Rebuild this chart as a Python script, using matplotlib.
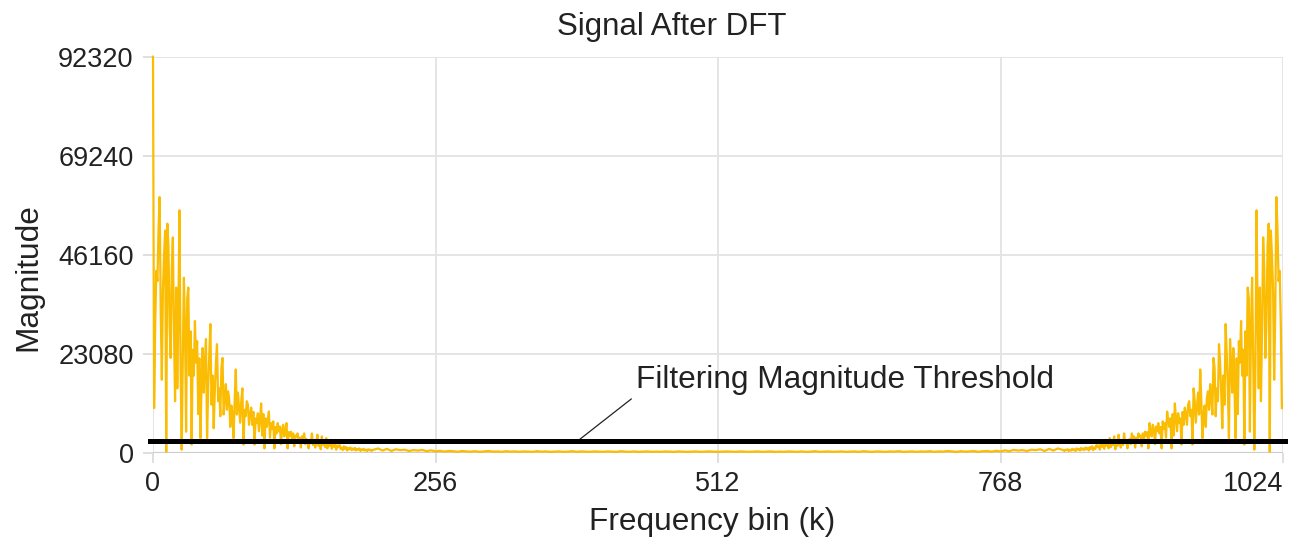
import numpy as np
import matplotlib.pyplot as plt

plt.rcParams['font.family'] = ['Liberation Sans', 'DejaVu Sans']

N = 1024

# magnitude of every bin k = 0..199
k_low = np.arange(0, 200)
mag_low = [
    92320, 10400, 30000, 42400, 40000, 52000, 59600, 33000, 17000, 38000,
    46000, 51800, 200, 53400, 48000, 30000, 22100, 43200, 50200, 28000,
    12000, 38500, 15000, 33000, 56500, 20000, 700, 22000, 40800, 29100,
    4900, 36000, 38500, 18000, 28300, 1900, 24000, 18000, 30700, 21000,
    26000, 9000, 22000, 3400, 16000, 24400, 14000, 21000, 26500, 3400,
    15000, 23000, 30000, 11200, 18000, 5700, 14000, 21000, 25300, 12000,
    15000, 8500, 19800, 22100, 8900, 12700, 16000, 10000, 14300, 12700,
    6000, 11000, 9000, 3400, 12000, 19400, 8900, 14000, 10500, 7000,
    12000, 15000, 1900, 10000, 8500, 12000, 11200, 6500, 8900, 10500,
    6500, 9500, 1900, 8000, 7000, 9200, 5000, 8000, 11500, 4000,
    9000, 1000, 8000, 6000, 7500, 9600, 3500, 6900, 5500, 7300,
    1000, 6000, 4500, 6900, 5000, 6100, 2000, 5500, 6500, 3800,
    5200, 6900, 1000, 4800, 4000, 4900, 3000, 4500, 1500, 4000,
    3700, 4500, 2500, 3500, 1200, 3800, 3000, 4500, 2000, 3200,
    2600, 1000, 3000, 2200, 4500, 1800, 2800, 1200, 2400, 4200,
    1600, 2600, 800, 3800, 1800, 2700, 1300, 3400, 1000, 2000,
    1600, 3000, 900, 1900, 1400, 2000, 700, 1700, 1300, 1800,
    900, 1200, 600, 1500, 900, 1300, 500, 1100, 800, 1200,
    600, 1000, 700, 1100, 500, 900, 700, 1000, 400, 800,
    600, 900, 500, 700, 400, 800, 600, 700, 400, 600,
]

# noise floor, every 4th bin from 200 up to N/2
k_mid = np.arange(200, 513, 4)
mag_mid = [
    700, 1000, 500, 900, 400, 800, 600, 700, 400, 600, 500, 650, 350, 550,
    300, 450, 250, 400, 350, 200, 400, 300, 250, 350,
    200, 300, 400, 250, 300, 200, 350, 250, 300, 200,
    300, 250, 200, 350, 250, 300, 200, 250, 300, 200,
    250, 350, 200, 300, 250, 200, 300, 250, 200, 300,
    250, 200, 350, 250, 200, 300, 200, 250, 300, 200,
    250, 200, 300, 250, 200, 300, 250, 200, 250, 300,
    200, 250, 300, 250, 200,
]

x_ticks = [0, 256, 512, 768, 1024]
y_ticks = [0, 23080, 46160, 69240, 92320]

# real signal -> magnitude spectrum is mirrored about N/2
k_half = np.concatenate([k_low, k_mid])
mag_half = np.array(mag_low + mag_mid, dtype=float)
k_all = np.concatenate([k_half, N - k_half[1:-1][::-1]])
mag_all = np.concatenate([mag_half, mag_half[1:-1][::-1]])

threshold = 0.03 * mag_all.max()

fig = plt.figure(figsize=(13.11, 5.41), dpi=100)
ax = fig.add_axes([153 / 1311, 1 - 452.7 / 541, 1130 / 1311, 396 / 541])

ax.plot(k_all, mag_all, color='#fbbc04', lw=1.6, zorder=3, clip_on=False)
ax.axhline(threshold, color='black', lw=3.6, zorder=4, xmin=-0.003, xmax=1.002, clip_on=False)

ax.annotate('Filtering Magnitude Threshold', xy=(385, threshold), xytext=(438, 16950),
            fontsize=22.8, color='#222222', va='center', ha='left',
            arrowprops=dict(arrowstyle='-', color='#222222', lw=0.9,
                            relpos=(0, 0), shrinkA=2, shrinkB=0))

ax.set_xlim(0, N)
ax.set_ylim(0, 92320)
ax.set_xticks(x_ticks)
ax.set_yticks(y_ticks)
ax.set_yticklabels([str(v) for v in y_ticks])
ax.tick_params(axis='both', labelsize=19.5, colors='#d9d9d9', labelcolor='#222222',
               length=7, width=1.2)
ax.tick_params(axis='y', pad=7)
ax.tick_params(axis='x', pad=6)
# keep the last x label inside the plot, as in the original
ax.get_xticklabels()[-1].set_horizontalalignment('right')
ax.get_xticklabels()[-1].set_x(1024)
ax.grid(True, color='#e3e3e3', lw=1.3, zorder=0)
ax.set_axisbelow(True)
for s in ax.spines.values():
    s.set_visible(False)
ax.axhline(0, color='#cccccc', lw=1.5, zorder=1)

fig.text(672 / 1311, 1 - 27 / 541, 'Signal After DFT', fontsize=22.5, color='#222222',
         ha='center', va='center')
fig.text(28 / 1311, 1 - 277 / 541, 'Magnitude', fontsize=22.8, color='#222222',
         ha='center', va='center', rotation=90)
fig.text(712 / 1311, 1 - 522 / 541, 'Frequency bin (k)', fontsize=22.8, color='#222222',
         ha='center', va='center')

fig.savefig('out.png', dpi=100)
